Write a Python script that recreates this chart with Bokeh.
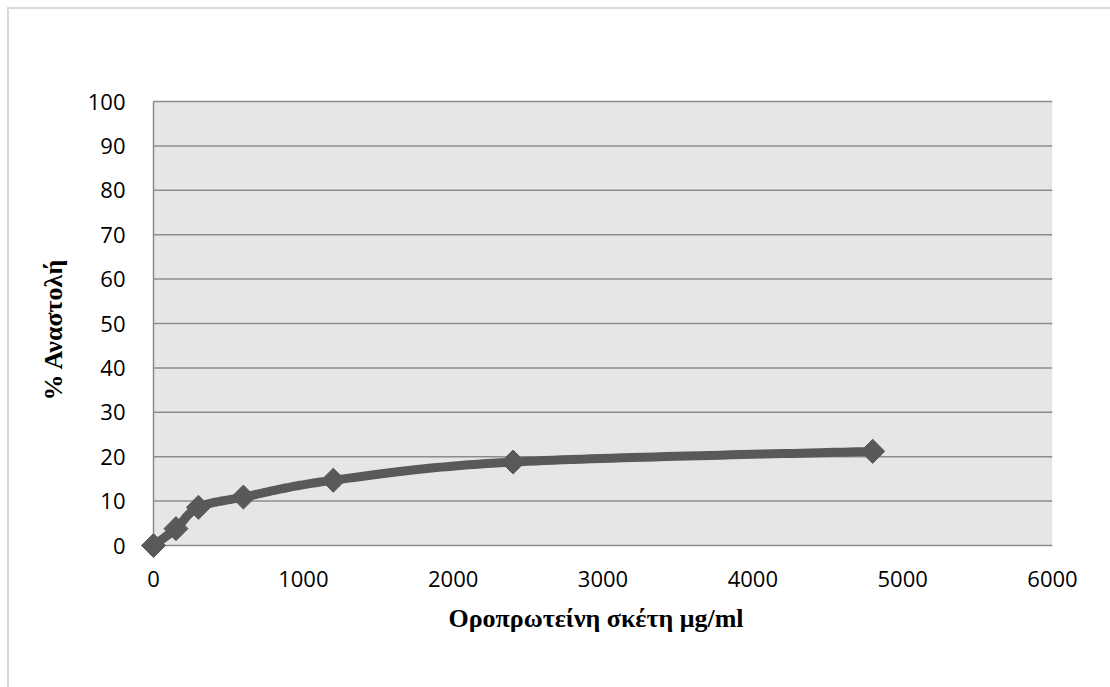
import numpy as np
from bokeh.plotting import figure
from bokeh.models import Range1d, FixedTicker, ColumnDataSource
from bokeh.embed import file_html
from bokeh.resources import INLINE

# Inhibition (%) against serum-protein concentration (μg/ml)
conc = [0, 150, 300, 600, 1200, 2400, 4800]
inhibition = [0, 3.8, 8.6, 10.9, 14.7, 18.8, 21.2]

x_ticks = [0, 1000, 2000, 3000, 4000, 5000, 6000]
y_ticks = [0, 10, 20, 30, 40, 50, 60, 70, 80, 90, 100]
x_title = "Οροπρωτείνη σκέτη μg/ml"
y_title = "% Αναστολή"

X_MAX, Y_MAX = 6000, 100

# plot-area geometry (pixels)
AREA_W, AREA_H = 899, 444
PAD_L, PAD_B, PAD_T = 14, 14, 2          # room so edge markers are not clipped
sx = AREA_W / X_MAX
sy = AREA_H / Y_MAX

LINE_COLOR = "#595959"
GRID_COLOR = "#8c8c8c"


def smooth_curve(xs, ys, n=40):
    """Cardinal (Catmull-Rom) Bezier smoothing, done in screen space."""
    P = np.column_stack([np.asarray(xs, float) * sx, np.asarray(ys, float) * sy])
    ext = np.vstack([P[0], P, P[-1]])
    out = []
    t = np.linspace(0, 1, n)[:, None]
    for i in range(len(P) - 1):
        p0, p1, p2, p3 = ext[i], ext[i + 1], ext[i + 2], ext[i + 3]
        c1 = p1 + (p2 - p0) / 6.0
        c2 = p2 - (p3 - p1) / 6.0
        seg = ((1 - t) ** 3) * p1 + 3 * ((1 - t) ** 2) * t * c1 + 3 * (1 - t) * t ** 2 * c2 + t ** 3 * p2
        out.append(seg if i == 0 else seg[1:])
    pts = np.vstack(out)
    return pts[:, 0] / sx, pts[:, 1] / sy


p = figure(
    frame_width=AREA_W + PAD_L,
    frame_height=AREA_H + PAD_B + PAD_T,
    min_border_left=153 - 9 - PAD_L,
    min_border_top=101 - 9 - PAD_T,
    min_border_right=58,
    min_border_bottom=142 - PAD_B,
    x_range=Range1d(-PAD_L / sx, X_MAX),
    y_range=Range1d(-PAD_B / sy, Y_MAX + PAD_T / sy),
    output_backend="svg",
    toolbar_location=None,
    background_fill_color="white",
    border_fill_color="white",
    outline_line_color=None,
)
p.margin = (7, 0, 0, 7)
p.styles = {"border-left": "2px solid #d9d9d9", "border-top": "2px solid #d9d9d9"}

# gray plot area
p.quad(left=[0], right=[X_MAX], bottom=[0], top=[Y_MAX], fill_color="#e6e6e6",
       line_color=None, level="underlay")

# axes (their own lines are hidden; the value-axis line is drawn at x = 0)
for ax in (p.xaxis[0], p.yaxis[0]):
    ax.axis_line_color = None
    ax.major_tick_line_color = None
    ax.minor_tick_line_color = None
    ax.major_label_text_font = "Open Sans"
    ax.major_label_text_font_size = "22px"
    ax.major_label_text_color = "#000000"
    ax.axis_label_text_font = "Liberation Serif"
    ax.axis_label_text_font_style = "bold"
    ax.axis_label_text_font_size = "26px"
    ax.axis_label_text_color = "#000000"

p.xaxis.ticker = FixedTicker(ticks=x_ticks)
p.yaxis.ticker = FixedTicker(ticks=y_ticks)
p.xaxis.axis_label = x_title
p.yaxis.axis_label = y_title
p.xaxis.major_label_standoff = 19 - PAD_B
p.xaxis.axis_label_standoff = 14
p.yaxis.major_label_standoff = 22 - PAD_L
p.yaxis.axis_label_standoff = 17

# horizontal gridlines across the gray area only, plus the value-axis line
p.xgrid.grid_line_color = None
p.ygrid.grid_line_color = None
p.segment(x0=[0] * len(y_ticks), y0=y_ticks, x1=[X_MAX] * len(y_ticks), y1=y_ticks,
          line_color=GRID_COLOR, line_width=1.5)
p.segment(x0=[0], y0=[0], x1=[0], y1=[Y_MAX], line_color=GRID_COLOR, line_width=1.5)

cx, cy = smooth_curve(conc, inhibition)
p.line(cx, cy, line_color=LINE_COLOR, line_width=9, line_join="round", line_cap="round")

src = ColumnDataSource(data=dict(x=conc, y=inhibition))
p.scatter("x", "y", source=src, marker="square", size=17, angle=np.pi / 4,
          fill_color=LINE_COLOR, line_color=LINE_COLOR)

open("out.html", "w").write(file_html(p, INLINE))
